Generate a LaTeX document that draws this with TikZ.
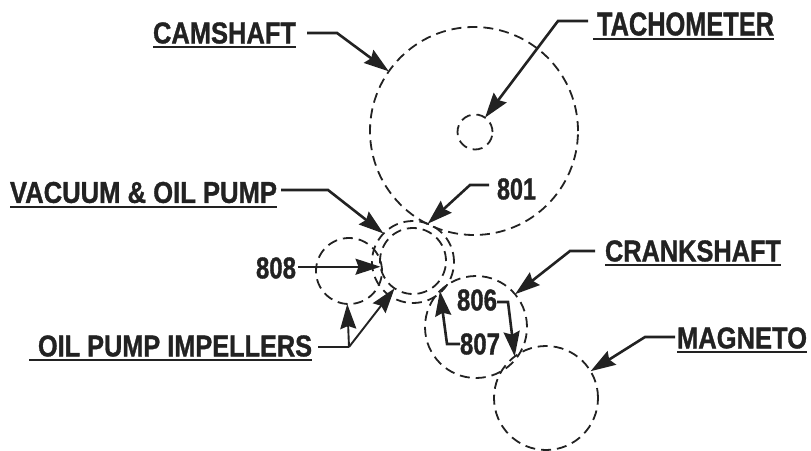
\documentclass[tikz,border=0pt]{standalone}
\usepackage{graphicx}
\usepackage{fontspec}
\setmainfont{Liberation Sans}[BoldFeatures={FakeBold=1.2}]
\usetikzlibrary{arrows.meta}
\definecolor{ink}{HTML}{222222}
\newcommand{\lab}[3][21]{\resizebox{#2pt}{#1pt}{\textbf{#3}}}
\tikzset{
  gear/.style={circle,draw=ink,line width=1.8pt,dash pattern=on 10pt off 6pt,inner sep=0pt,outer sep=0pt},
  caption/.style={anchor=west,inner sep=0pt,outer sep=0pt,text=ink},
  rule/.style={draw=ink,line width=1.8pt},
  stem/.style={draw=ink,line width=2.6pt},
  lead/.style={draw=ink,line width=2.6pt,-{Stealth[length=25pt,width=16pt,inset=3pt]}},
  leadthin/.style={draw=ink,line width=1.9pt,-{Stealth[length=25pt,width=16pt,inset=3pt]}},
}
\begin{document}
\begin{tikzpicture}[x=1pt,y=-1pt]
\useasboundingbox (0,0) rectangle (811,450);
\node[gear,minimum size=208pt] (cam) at (474,131) {};
\node[gear,minimum size=35pt] (tach) at (475,132) {};
\node[gear,minimum size=82pt] (vacouter) at (413,262) {};
\node[gear,minimum size=66pt] (vacinner) at (413,261) {};
\node[gear,minimum size=66pt] (lobe) at (349,271) {};
\node[gear,minimum size=102pt] (crank) at (476,327) {};
\node[gear,minimum size=104pt] (magneto) at (546,398) {};

\node[caption] (tcam) at (153,33) {\lab{143}{CAMSHAFT}};
\node[caption] (ttach) at (597,24) {\lab[23]{177}{TACHOMETER}};
\node[caption] (tvac) at (10,192.5) {\lab{267}{VACUUM \& OIL PUMP}};
\node[caption] (t801) at (497,189) {\lab{39}{801}};
\node[caption] (t808) at (256,268) {\lab{40}{808}};
\node[caption] (tcrank) at (605,251) {\lab{176}{CRANKSHAFT}};
\node[caption] (t806) at (457,300) {\lab{40}{806}};
\node[caption] (t807) at (460,344) {\lab{40}{807}};
\node[caption] (tmag) at (677,338) {\lab{130}{MAGNETO}};
\node[caption] (toil) at (38,346) {\lab{274}{OIL PUMP IMPELLERS}};

\foreach \n/\ext in {tcam/0,ttach/4,tvac/0,tcrank/0,tmag/0,toil/9}
  \draw[rule] ([xshift=-\ext pt,yshift=-3.5pt]\n.south west) -- ([yshift=-3.5pt]\n.south east);

\draw[lead] ([xshift=11pt]tcam.east) -- ++(30,0) -- (cam.145);
\draw[lead] ([xshift=-9pt,yshift=3pt]ttach.west) -- ++(-30,0) -- (tach.55);
\draw[lead] ([xshift=4pt,yshift=2.5pt]tvac.east) -- ++(47,0) -- (vacouter.136);
\draw[lead] ([xshift=-8pt,yshift=4pt]t801.west) -- ++(-19,0) -- (vacouter.69);
\draw[leadthin] ([xshift=2pt]t808.east |- vacinner.190) -- (vacinner.190);
\coordinate (oiljoin) at (349,347);
\draw[stem] ([xshift=6pt,yshift=-1pt]toil.east) -- (oiljoin);
\draw[leadthin] (oiljoin) -- (lobe.267);
\draw[leadthin] (oiljoin) -- (vacinner.236);
\draw[lead] ([xshift=-10pt]tcrank.west) -- ++(-25,0) -- (crank.40);
\draw[lead] ([yshift=-2pt]t806.east) -- ++(11,0) -- (magneto.127);
\draw[lead] (t807.west) -- ++(-13,0) -- (crank.135);
\draw[lead] ([xshift=-2pt,yshift=1pt]tmag.west) -- ++(-30,0) -- (magneto.31);
\end{tikzpicture}
\end{document}
